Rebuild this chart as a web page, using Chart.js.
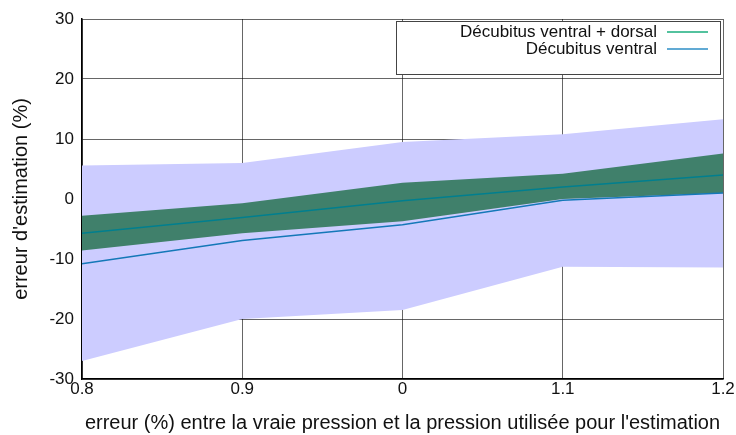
<!DOCTYPE html>
<html>
<head>
<meta charset="utf-8">
<script src="https://cdn.jsdelivr.net/npm/chart.js@4/dist/chart.umd.min.js"></script>
<style>
  html, body { margin: 0; padding: 0; background: #fff; }
  canvas { display: block; }
</style>
</head>
<body>
<canvas id="myChart" width="736" height="435"></canvas>
<script>
// x tick labels as printed on the figure (the middle one really reads "0")
const xLabels = ['0.8', '0.9', '0', '1.1', '1.2'];

// Décubitus ventral + dorsal : mean line and band
const dorsalMean  = [-5.7, -3.1, -0.3, 2.0, 4.0];
const dorsalUpper = [-2.8, -0.7, 2.7, 4.2, 7.6];
const dorsalLower = [-8.6, -5.7, -3.7, 0.0, 1.0];

// Décubitus ventral : mean line and band
const ventralMean  = [-10.8, -6.9, -4.3, -0.2, 1.0];
const ventralUpper = [5.6, 6.0, 9.5, 10.8, 13.3];
const ventralLower = [-27.0, -20.0, -18.5, -11.3, -11.4];

const legendNames = ['Décubitus ventral + dorsal', 'Décubitus ventral'];
const legendColors = ['#1aae7e', '#2d8ec6'];

const fontFamily = '"Liberation Sans", Arial, Helvetica, sans-serif';

// gnuplot style legend: framed box, text right aligned, line sample on the right
const keyBox = {
  id: 'keyBox',
  afterDraw(chart) {
    const ctx = chart.ctx;
    ctx.save();
    ctx.strokeStyle = '#444';
    ctx.lineWidth = 1;
    ctx.fillStyle = '#fff';
    ctx.fillRect(396.5, 21.5, 324, 53);
    ctx.strokeRect(396.5, 21.5, 324, 53);
    ctx.font = '17px ' + fontFamily;
    ctx.textAlign = 'right';
    ctx.textBaseline = 'middle';
    for (let i = 0; i < legendNames.length; i++) {
      const y = 32 + i * 17;
      ctx.fillStyle = '#111';
      ctx.fillText(legendNames[i], 657, y);
      ctx.strokeStyle = legendColors[i];
      ctx.lineWidth = 1.5;
      ctx.beginPath();
      ctx.moveTo(667, y);
      ctx.lineTo(708, y);
      ctx.stroke();
    }
    ctx.restore();
  }
};

new Chart(document.getElementById('myChart').getContext('2d'), {
  type: 'line',
  data: {
    labels: xLabels,
    datasets: [
      { label: legendNames[0], data: dorsalMean, borderColor: '#007f8f', borderWidth: 1.5, pointRadius: 0, fill: false, tension: 0 },
      { label: legendNames[1], data: ventralMean, borderColor: '#1478b8', borderWidth: 1.5, pointRadius: 0, fill: false, tension: 0 },
      { label: 'dorsal upper', data: dorsalUpper, borderWidth: 0, pointRadius: 0, backgroundColor: '#40806b', fill: '+1' },
      { label: 'dorsal lower', data: dorsalLower, borderWidth: 0, pointRadius: 0, fill: false },
      { label: 'ventral upper', data: ventralUpper, borderWidth: 0, pointRadius: 0, backgroundColor: '#ccccff', fill: '+1' },
      { label: 'ventral lower', data: ventralLower, borderWidth: 0, pointRadius: 0, fill: false }
    ]
  },
  options: {
    responsive: false,
    animation: false,
    layout: { padding: { top: 19, right: 13, left: 0, bottom: 0 } },
    plugins: {
      legend: { display: false },
      tooltip: { enabled: false }
    },
    scales: {
      x: {
        offset: false,
        z: 1,
        grid: { color: 'rgba(0,0,0,0.6)', offset: false, drawTicks: false },
        border: { color: '#000', width: 1.5 },
        ticks: { color: '#111', font: { family: fontFamily, size: 17 }, maxRotation: 0, padding: 0 },
        title: {
          display: true,
          text: "erreur (%) entre la vraie pression et la pression utilisée pour l'estimation",
          color: '#111',
          font: { family: fontFamily, size: 20 },
          padding: { top: 0, bottom: 0 }
        },
        afterFit(s) { s.height = 56; }
      },
      y: {
        min: -30,
        max: 30,
        z: 1,
        grid: { color: 'rgba(0,0,0,0.6)', drawTicks: false },
        border: { color: '#000', width: 1.5 },
        ticks: { stepSize: 10, color: '#111', font: { family: fontFamily, size: 17 }, padding: 8 },
        title: {
          display: true,
          text: "erreur d'estimation (%)",
          color: '#111',
          font: { family: fontFamily, size: 20 },
          padding: { top: 9, bottom: 0 }
        },
        afterFit(s) { s.width = 82; }
      }
    }
  },
  plugins: [keyBox]
});
</script>
</body>
</html>
